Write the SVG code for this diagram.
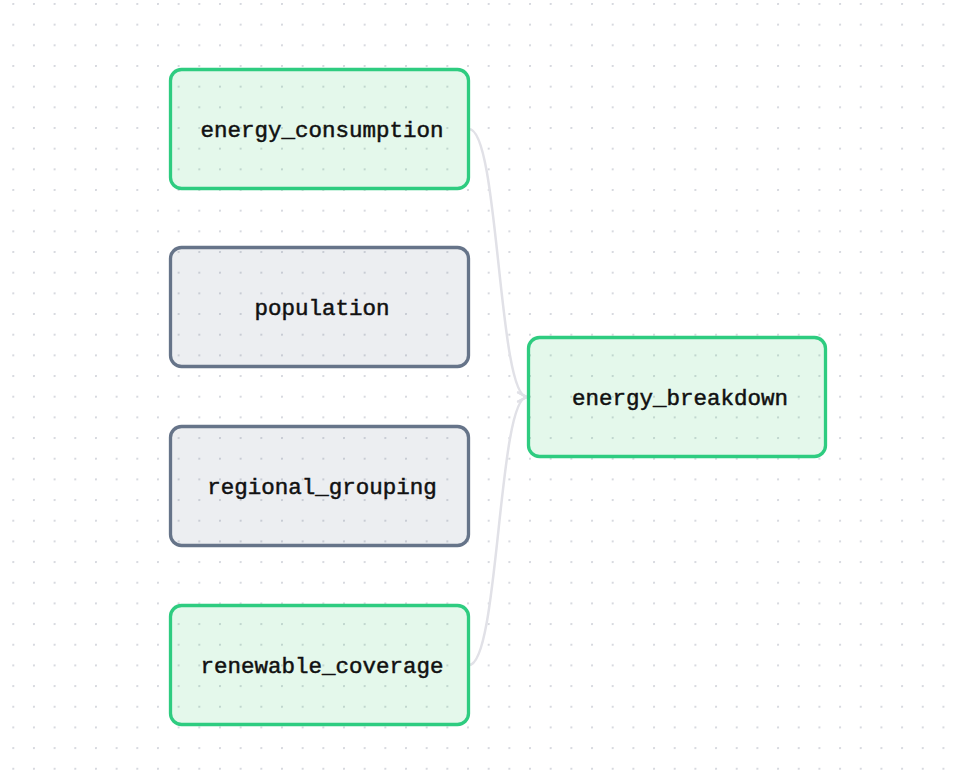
<svg xmlns="http://www.w3.org/2000/svg" width="959" height="780" viewBox="0 0 959 780">
  <defs>
    <pattern id="dots" x="12.3" y="3" width="20.67" height="20.67" patternUnits="userSpaceOnUse">
      <circle cx="1" cy="1" r="1.05" fill="#d2d4db"/>
    </pattern>
    <marker id="arrow" viewBox="0 0 12 12" refX="11" refY="6" markerWidth="12" markerHeight="12" markerUnits="userSpaceOnUse" orient="auto">
      <path d="M2,1.5 L11,6 L2,10.5" fill="none" stroke="#e1e1e7" stroke-width="2.2" stroke-linecap="round" stroke-linejoin="round"/>
    </marker>
    <style>
      .node-green rect { fill: #22c55e; fill-opacity: 0.12; stroke: #2ecc80; stroke-width: 3.3; }
      .node-gray rect { fill: #64748b; fill-opacity: 0.12; stroke: #667489; stroke-width: 3.3; }
      .label { font-family: "Liberation Mono", "DejaVu Sans Mono", monospace; font-size: 22.5px; fill: #111111; stroke: #111111; stroke-width: 0.5; text-anchor: middle; }
      .edge { fill: none; stroke: #e1e1e7; stroke-width: 2.5; }
    </style>
  </defs>
  <rect width="959" height="780" fill="#ffffff"/>
  <rect width="959" height="780" fill="url(#dots)"/>

  <g id="connectors">
    <path class="edge" d="M469,129 C499,129 498,397 527,397" marker-end="url(#arrow)"/>
    <path class="edge" d="M469,665 C499,665 498,397 527,397" marker-end="url(#arrow)"/>
  </g>

  <g id="energy_consumption" class="node-green">
    <rect x="170.5" y="69.5" width="298" height="119" rx="11"/>
    <text class="label" x="322" y="137">energy_consumption</text>
  </g>
  <g id="population" class="node-gray">
    <rect x="170.5" y="247.5" width="298" height="119" rx="11"/>
    <text class="label" x="322" y="315">population</text>
  </g>
  <g id="regional_grouping" class="node-gray">
    <rect x="170.5" y="426.5" width="298" height="119" rx="11"/>
    <text class="label" x="322" y="494">regional_grouping</text>
  </g>
  <g id="renewable_coverage" class="node-green">
    <rect x="170.5" y="605.5" width="298" height="119" rx="11"/>
    <text class="label" x="322" y="673">renewable_coverage</text>
  </g>
  <g id="energy_breakdown" class="node-green">
    <rect x="528.5" y="337.5" width="297" height="119" rx="11"/>
    <text class="label" x="680" y="405">energy_breakdown</text>
  </g>
</svg>
